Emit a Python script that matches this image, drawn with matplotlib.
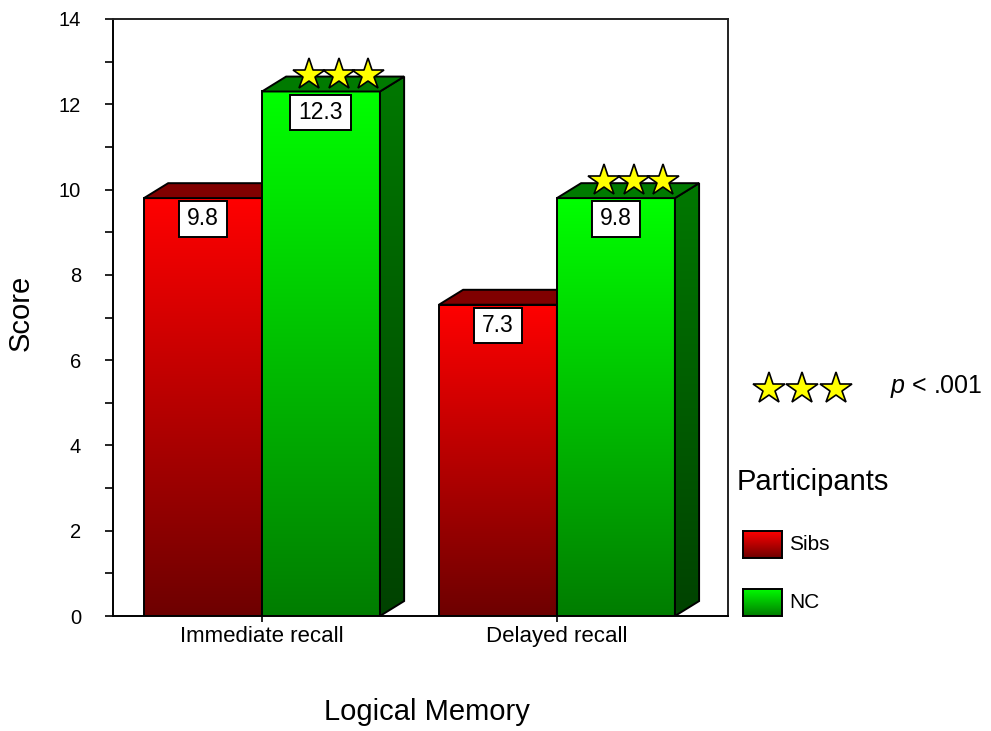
import numpy as np
import matplotlib.pyplot as plt
from matplotlib.patches import Polygon, Rectangle
from matplotlib.lines import Line2D

plt.rcParams['font.family'] = ['Liberation Sans', 'DejaVu Sans']
plt.rcParams['mathtext.fontset'] = 'custom'
plt.rcParams['mathtext.it'] = 'Liberation Sans:italic'
plt.rcParams['mathtext.rm'] = 'Liberation Sans'

# data
conditions = ['Immediate recall', 'Delayed recall']
groups = ['Sibs', 'NC']
sibs_scores = [9.8, 7.3]
nc_scores = [12.3, 9.8]
nc_stars = [3, 3]

bar_width = 0.4
depth_x = 0.082   # 3D offset of the top/side faces in data units
depth_y = 0.35

colors = {
    'Sibs': dict(front=((1.0, 0, 0), (0.43, 0, 0)), top='#800000',
                 side=((0.45, 0, 0), (0.25, 0, 0))),
    'NC': dict(front=((0, 1.0, 0), (0, 0.49, 0)), top='#007a00',
               side=((0, 0.47, 0), (0, 0.26, 0))),
}


def gradient(c_top, c_bottom, n=256):
    t = np.linspace(0, 1, n)[:, None, None]
    c_top = np.array(c_top)[None, None, :]
    c_bottom = np.array(c_bottom)[None, None, :]
    return c_top * (1 - t) + c_bottom * t


def draw_bar(ax, x0, h, group, z):
    c = colors[group]
    x1 = x0 + bar_width
    ax.imshow(gradient(*c['front']), extent=[x0, x1, 0, h], aspect='auto',
              origin='upper', zorder=z, interpolation='bilinear')
    ax.add_patch(Rectangle((x0, 0), bar_width, h, fill=False, ec='black',
                           lw=1.4, zorder=z + 0.2))
    side = Polygon([(x1, 0), (x1 + depth_x, depth_y), (x1 + depth_x, h + depth_y),
                    (x1, h)], closed=True, fc='none', ec='black', lw=1.4,
                   zorder=z + 0.2)
    ax.add_patch(side)
    im = ax.imshow(gradient(*c['side']), extent=[x1, x1 + depth_x, 0, h + depth_y],
                   aspect='auto', origin='upper', zorder=z + 0.1,
                   interpolation='bilinear')
    im.set_clip_path(side)
    top = Polygon([(x0, h), (x1, h), (x1 + depth_x, h + depth_y),
                   (x0 + depth_x, h + depth_y)], closed=True, fc=c['top'],
                  ec='black', lw=1.4, zorder=z + 0.2)
    ax.add_patch(top)
    ax.text(x0 + bar_width / 2, h - 0.49, f'{h:.1f}', ha='center', va='center',
            fontsize=16.5, zorder=z + 0.3,
            bbox=dict(boxstyle='square,pad=0.36', fc='white', ec='black', lw=1.4,
                      mutation_aspect=0.75))


W, H = 991, 731
fig = plt.figure(figsize=(W / 100, H / 100), dpi=100)
ax = fig.add_axes([113 / W, 1 - 616 / H, 615 / W, 597 / H])

x = np.arange(len(conditions))
z = 2
for i in range(len(conditions)):
    draw_bar(ax, x[i] - bar_width, sibs_scores[i], 'Sibs', z)
    z += 1
    draw_bar(ax, x[i], nc_scores[i], 'NC', z)
    z += 1
    # significance stars sitting on the NC bar
    sx = x[i] + bar_width / 2 + 0.06 + np.array([-0.1, 0, 0.1])[:nc_stars[i]]
    ax.plot(sx, [nc_scores[i] + 0.39] * len(sx), ls='none', marker='*', ms=24,
            mfc='yellow', mec='black', mew=1.2, zorder=z + 1, clip_on=False)

ax.set_xlim(-0.505, 1.580)
ax.set_ylim(0, 14)

for s in ax.spines.values():
    s.set_linewidth(1.4)
ax.spines['top'].set_color('#222222')
ax.spines['right'].set_color('#222222')

ax.set_yticks(np.arange(0, 15, 2))
ax.set_yticks(np.arange(1, 14, 2), minor=True)
ax.tick_params(axis='y', which='both', direction='out', length=6, width=1.2,
               labelsize=14.5, pad=17)
ax.set_xticks(x)
ax.set_xticklabels(conditions)
ax.tick_params(axis='x', direction='out', length=4, width=1.2, labelsize=16, pad=3)

fig.text(21 / W, 1 - 313 / H, 'Score', rotation=90, ha='center', va='center',
         fontsize=21)
fig.text(427 / W, 1 - 712 / H, 'Logical Memory', ha='center', va='center',
         fontsize=21)

# significance key
fig.add_artist(Line2D(np.array([769, 802, 836]) / W, [1 - 389 / H] * 3,
                      transform=fig.transFigure, ls='none', marker='*', ms=24,
                      mfc='yellow', mec='black', mew=1.2))
fig.text(890 / W, 1 - 387 / H, r'$p$ < .001', ha='left', va='center', fontsize=18)

# legend
fig.text(737 / W, 1 - 482 / H, 'Participants', ha='left', va='center', fontsize=21)
for g, yc in zip(groups, [544, 602]):
    lax = fig.add_axes([743 / W, 1 - (yc + 14) / H, 39 / W, 27 / H])
    lax.imshow(gradient(*colors[g]['front']), extent=[0, 1, 0, 1], aspect='auto',
               origin='upper')
    lax.set_xticks([])
    lax.set_yticks([])
    for s in lax.spines.values():
        s.set_linewidth(1.4)
    fig.text(789 / W, 1 - yc / H, g, ha='left', va='center', fontsize=15)

fig.savefig('out.png', dpi=100)
